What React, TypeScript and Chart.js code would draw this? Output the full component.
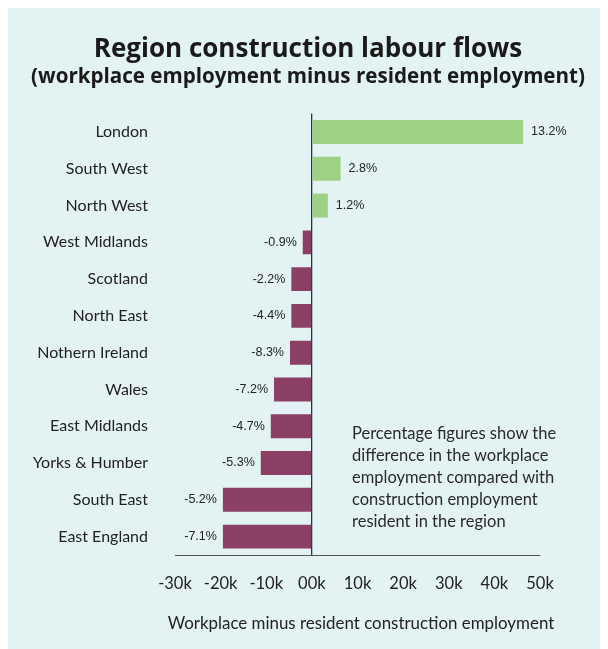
import React, { useEffect, useRef } from "react";
import { Chart, registerables } from "chart.js";

Chart.register(...registerables);

const regions = [
  "London",
  "South West",
  "North West",
  "West Midlands",
  "Scotland",
  "North East",
  "Nothern Ireland",
  "Wales",
  "East Midlands",
  "Yorks & Humber",
  "South East",
  "East England",
];
const flows = [46300, 6300, 3500, -2000, -4500, -4500, -4800, -8300, -9000, -11200, -19500, -19500];
const pctLabels = ["13.2%", "2.8%", "1.2%", "-0.9%", "-2.2%", "-4.4%", "-8.3%", "-7.2%", "-4.7%", "-5.3%", "-5.2%", "-7.1%"];
const tickText = ["-30k", "-20k", "-10k", "00k", "10k", "20k", "30k", "40k", "50k"];

const FONT = 'Lato, "Gill Sans", "Noto Sans", sans-serif';
const TITLE_FONT = '"Open Sans", "Gill Sans", sans-serif';
const GREEN = "#9dd183";
const MAROON = "#8d4066";
const BG = "#e3f2f2";

const pctLabelPlugin = {
  id: "pctLabels",
  afterDatasetsDraw(chart: any) {
    const ctx = chart.ctx;
    const meta = chart.getDatasetMeta(0);
    ctx.save();
    ctx.font = '12.5px "Liberation Sans", Arial, sans-serif';
    ctx.fillStyle = "#222";
    ctx.textBaseline = "middle";
    meta.data.forEach((el: any, i: number) => {
      const v = flows[i];
      if (v >= 0) {
        ctx.textAlign = "left";
        ctx.fillText(pctLabels[i], el.x + 8, el.y);
      } else {
        ctx.textAlign = "right";
        ctx.fillText(pctLabels[i], el.x - 6, el.y);
      }
    });
    ctx.restore();
  },
};

export default function App() {
  const canvasRef = useRef<HTMLCanvasElement | null>(null);

  useEffect(() => {
    if (!canvasRef.current) return;
    const chart = new Chart(canvasRef.current, {
      type: "bar",
      data: {
        labels: regions,
        datasets: [
          {
            data: flows,
            backgroundColor: flows.map((v) => (v >= 0 ? GREEN : MAROON)),
            borderWidth: 0,
            categoryPercentage: 1,
            barPercentage: 0.65,
          },
        ],
      },
      options: {
        indexAxis: "y",
        animation: false,
        responsive: false,
        maintainAspectRatio: false,
        layout: { padding: 0 },
        plugins: {
          legend: { display: false },
          tooltip: { enabled: false },
          title: {
            display: true,
            text: "Region construction labour flows",
            color: "#1a1a1a",
            font: { family: TITLE_FONT, size: 26, weight: "bold", lineHeight: 1.0 },
            padding: { top: 29, bottom: 4 },
          },
          subtitle: {
            display: true,
            text: "(workplace employment minus resident employment)",
            color: "#1a1a1a",
            font: { family: TITLE_FONT, size: 20.6, weight: "bold", lineHeight: 1.0 },
            padding: { top: 0, bottom: 26 },
          },
        },
        scales: {
          y: {
            type: "category",
            grid: { display: false, drawTicks: false },
            border: { display: false },
            ticks: {
              color: "#222",
              font: { family: FONT, size: 16 },
              padding: 27,
            },
            afterFit: (s: any) => {
              s.width = 167;
            },
          },
          yRight: {
            type: "linear",
            position: "right",
            display: true,
            grid: { display: false, drawTicks: false },
            border: { display: false },
            ticks: { display: false },
            afterFit: (s: any) => {
              s.width = 68;
            },
          },
          x: {
            type: "linear",
            min: -30000,
            max: 50000,
            grid: {
              drawTicks: false,
              color: (c: any) => (c.tick && c.tick.value === 0 ? "#333" : "rgba(0,0,0,0)"),
              lineWidth: 1.3,
            },
            border: { display: true, color: "#555", width: 1 },
            ticks: {
              stepSize: 10000,
              maxRotation: 0,
              color: "#222",
              font: { family: FONT, size: 16.5 },
              padding: 19,
              callback: (_v: any, i: number) => tickText[i],
            },
            title: { display: false },
            afterFit: (s: any) => {
              s.height = 94;
            },
          },
        },
      },
      plugins: [pctLabelPlugin],
    } as any);
    return () => chart.destroy();
  }, []);

  return (
    <div style={{ position: "relative", width: 600, height: 641, background: BG }}>
      <canvas ref={canvasRef} width={600} height={641} style={{ display: "block" }} />
      <div
        style={{
          position: "absolute",
          left: 344,
          top: 414,
          fontFamily: FONT,
          fontSize: 16.5,
          lineHeight: "22px",
          color: "#2a2a2a",
          whiteSpace: "nowrap",
        }}
      >
        Percentage figures show the
        <br />
        difference in the workplace
        <br />
        employment compared with
        <br />
        construction employment
        <br />
        resident in the region
      </div>
      <div
        style={{
          position: "absolute",
          left: 153,
          width: 400,
          top: 605,
          textAlign: "center",
          fontFamily: FONT,
          fontSize: 16.9,
          lineHeight: "20px",
          color: "#222",
          whiteSpace: "nowrap",
        }}
      >
        Workplace minus resident construction employment
      </div>
    </div>
  );
}
